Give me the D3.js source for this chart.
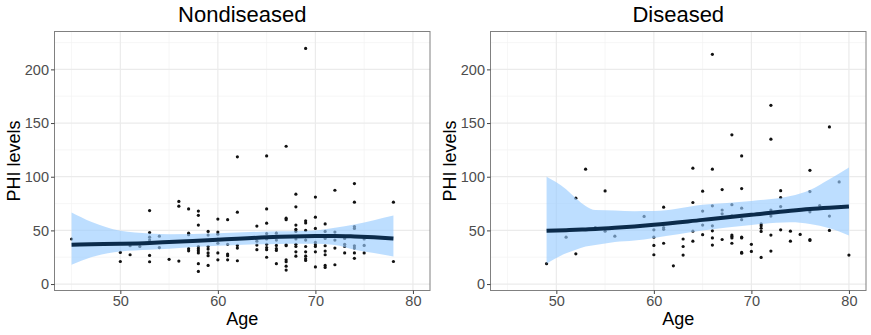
<!DOCTYPE html>
<html>
<head>
<meta charset="utf-8">
<script src="https://cdn.jsdelivr.net/npm/d3@7"></script>
<style>
  body { margin: 0; background: #fff; }
  svg text { font-family: "Liberation Sans", Arial, sans-serif; }
</style>
</head>
<body>
<svg id="chart" width="871" height="335"></svg>
<script>
// PHI levels by age, points grouped by age
const nondiseasedPoints = [
  [45, [42]],
  [50, [29.5, 21]],
  [51, [35.7, 27.3]],
  [52, [35]],
  [53, [68.5, 48, 43.7, 41, 26.7, 20.8]],
  [54, [44.6, 34]],
  [55, [23]],
  [56, [77, 72.6, 21.4]],
  [57, [70, 47.4, 46, 33, 31]],
  [58, [68, 64, 55, 35, 33, 31, 29, 19, 11.8]],
  [59, [49, 45.6, 35, 32.6, 29, 26.4, 17.4]],
  [60, [60.5, 48.4, 46.5, 42, 38, 29, 22.6]],
  [61, [60, 37, 28, 26.4, 22.6]],
  [62, [118.5, 67, 36, 33.5, 21.7]],
  [64, [54, 40, 36.3, 32]],
  [65, [119.4, 70, 56.7, 47, 42, 37, 34, 32, 25]],
  [66, [47.4, 41, 36, 33, 31.3, 19]],
  [67, [128.4, 61.4, 60, 36.6, 35.7, 22.6, 20.8, 16.7, 13]],
  [68, [83.7, 72, 55, 51, 49, 42, 37, 35, 30, 26]],
  [69, [219.5, 59, 57, 50, 44, 41, 35, 30, 26, 23.6, 22]],
  [70, [81, 62.3, 51.8, 38.8, 36.6, 35, 30, 16]],
  [71, [56, 49, 42.5, 35.7, 30.7, 27.3, 17.4, 15.5]],
  [72, [87.4, 48.4, 41, 33.5, 18]],
  [73, [42.5, 37, 35, 29]],
  [74, [93.6, 76.3, 53.6, 51.8, 35.7, 33.5, 29, 24]],
  [75, [42, 36, 29]],
  [78, [76.3, 21]],
]
const diseasedPoints = [
  [49, [19]],
  [51, [43.7]],
  [52, [80, 28.2]],
  [53, [107]],
  [54, [52.7]],
  [55, [86.8, 49.3]],
  [56, [44.6]],
  [59, [63]],
  [60, [50.5, 43.7, 36, 27.3]],
  [61, [71.6, 52.7, 51, 38]],
  [62, [17]],
  [63, [42, 35, 27]],
  [64, [108, 76, 49.3, 40]],
  [65, [86.5, 68, 55, 46]],
  [66, [214, 107, 72.9, 54.3, 49.6, 43, 36.3]],
  [67, [88, 69, 65.4, 41.5]],
  [68, [139, 74, 63.6, 45.6, 44.3, 43, 38]],
  [69, [119.4, 89, 70.7, 60, 43.7, 43, 29.5, 28.8]],
  [70, [37, 30.4]],
  [71, [56, 54.3, 52, 49, 24.8]],
  [72, [166.5, 135, 69, 63.3, 45.6, 30.7]],
  [73, [87, 80.6, 72.2, 50.5]],
  [74, [49.3, 40]],
  [75, [46.2]],
  [76, [106, 86.2, 67.3, 41.5, 40.6]],
  [77, [73.2]],
  [78, [146.4, 63.3, 50]],
  [79, [95.2]],
  [80, [27]],
]

// smoother fit and confidence band
const ndSmoothAge = [45, 47, 50, 53, 55, 60, 65, 70, 72, 74, 76, 78]
const ndSmoothFit = [36.6, 37, 37.5, 38.3, 39.2, 41.2, 43.5, 44.7, 44.8, 44.3, 43.5, 42.5]
const ndSmoothLow = [18, 25, 30.3, 32, 33, 35.6, 37.2, 37.5, 36.5, 32, 29, 25.7]
const ndSmoothHigh = [66.6, 58, 49.6, 47.2, 46.5, 47.4, 49, 50, 52.5, 55.5, 59.5, 63.8]

const dSmoothAge = [49, 51, 52, 53, 54, 56, 58, 60, 65, 70, 74, 76, 78, 80]
const dSmoothFit = [49.6, 50.2, 50.5, 50.9, 51.3, 52.4, 53.7, 55.2, 59.8, 64.5, 68.4, 70, 71.2, 72.2]
const dSmoothLow = [19, 28.8, 32, 35, 36.5, 39.3, 40.6, 43, 49.9, 55, 57.5, 56, 52, 45.2]
const dSmoothHigh = [100, 88.4, 80, 72.8, 69, 68.5, 67.9, 68, 73.8, 77.5, 82, 87.7, 97.7, 108.5]

const xTicks = [50, 60, 70, 80]
const xMinor = [45, 55, 65, 75]
const yTicks = [0, 50, 100, 150, 200]
const yMinor = [25, 75, 125, 175, 225]

const panels = [
  { title: "Nondiseased", left: 54.5, right: 430, points: nondiseasedPoints,
    age: ndSmoothAge, fit: ndSmoothFit, low: ndSmoothLow, high: ndSmoothHigh },
  { title: "Diseased", left: 490.5, right: 866, points: diseasedPoints,
    age: dSmoothAge, fit: dSmoothFit, low: dSmoothLow, high: dSmoothHigh },
]
const plotTop = 31.5
const plotBottom = 290.5

const svg = d3.select("#chart")

const drawPanel = (p) => {
  const x = d3.scaleLinear().domain([43.25, 81.75]).range([p.left, p.right])
  const y = d3.scaleLinear().domain([-6, 235.3]).range([plotBottom, plotTop])
  const g = svg.append("g")

  // grid
  g.selectAll(".ym").data(yMinor).enter().append("line")
    .attr("x1", p.left).attr("x2", p.right)
    .attr("y1", (d) => y(d)).attr("y2", (d) => y(d))
    .attr("stroke", "#f2f2f2").attr("stroke-width", 0.7)
  g.selectAll(".xm").data(xMinor).enter().append("line")
    .attr("y1", plotTop).attr("y2", plotBottom)
    .attr("x1", (d) => x(d)).attr("x2", (d) => x(d))
    .attr("stroke", "#f2f2f2").attr("stroke-width", 0.7)
  g.selectAll(".yg").data(yTicks).enter().append("line")
    .attr("x1", p.left).attr("x2", p.right)
    .attr("y1", (d) => y(d)).attr("y2", (d) => y(d))
    .attr("stroke", "#ebebeb").attr("stroke-width", 1.2)
  g.selectAll(".xg").data(xTicks).enter().append("line")
    .attr("y1", plotTop).attr("y2", plotBottom)
    .attr("x1", (d) => x(d)).attr("x2", (d) => x(d))
    .attr("stroke", "#ebebeb").attr("stroke-width", 1.2)

  // points
  const pts = p.points.flatMap(([age, vals]) => vals.map((v) => ({ age, v })))
  g.selectAll("circle").data(pts).enter().append("circle")
    .attr("cx", (d) => x(d.age)).attr("cy", (d) => y(d.v))
    .attr("r", 1.6).attr("fill", "#111")

  // band and fit
  const band = p.age.map((a, i) => ({ a, lo: p.low[i], hi: p.high[i], f: p.fit[i] }))
  g.append("path").datum(band)
    .attr("d", d3.area().x((d) => x(d.a)).y0((d) => y(d.lo)).y1((d) => y(d.hi)).curve(d3.curveMonotoneX))
    .attr("fill", "#99ccff").attr("fill-opacity", 0.65)
  g.append("path").datum(band)
    .attr("d", d3.line().x((d) => x(d.a)).y((d) => y(d.f)).curve(d3.curveMonotoneX))
    .attr("fill", "none").attr("stroke", "#0b2b4b").attr("stroke-width", 4)

  // border
  g.append("rect")
    .attr("x", p.left).attr("y", plotTop)
    .attr("width", p.right - p.left).attr("height", plotBottom - plotTop)
    .attr("fill", "none").attr("stroke", "#808080").attr("stroke-width", 1)

  // axes
  const xAxis = g.append("g").attr("transform", `translate(0,${plotBottom})`)
    .call(d3.axisBottom(x).tickValues(xTicks).tickSize(3.5).tickPadding(2))
  const yAxis = g.append("g").attr("transform", `translate(${p.left},0)`)
    .call(d3.axisLeft(y).tickValues(yTicks).tickSize(3.5).tickPadding(2))
  ;[xAxis, yAxis].forEach((a) => {
    a.select(".domain").remove()
    a.selectAll("line").attr("stroke", "#444")
    a.selectAll("text").attr("fill", "#4d4d4d").style("font-size", "14.5px")
      .style("font-family", '"Liberation Sans", Arial, sans-serif')
  })

  const cx = (p.left + p.right) / 2
  g.append("text").attr("x", cx).attr("y", 21.5).attr("text-anchor", "middle")
    .style("font-size", "22px").attr("fill", "#000").text(p.title)
  g.append("text").attr("x", cx).attr("y", 325).attr("text-anchor", "middle")
    .style("font-size", "18px").attr("fill", "#000").text("Age")
  g.append("text")
    .attr("transform", `translate(${p.left - 34.5},${(plotTop + plotBottom) / 2}) rotate(-90)`)
    .attr("text-anchor", "middle")
    .style("font-size", "18px").attr("fill", "#000").text("PHI levels")
}

panels.forEach(drawPanel)
</script>
</body>
</html>
